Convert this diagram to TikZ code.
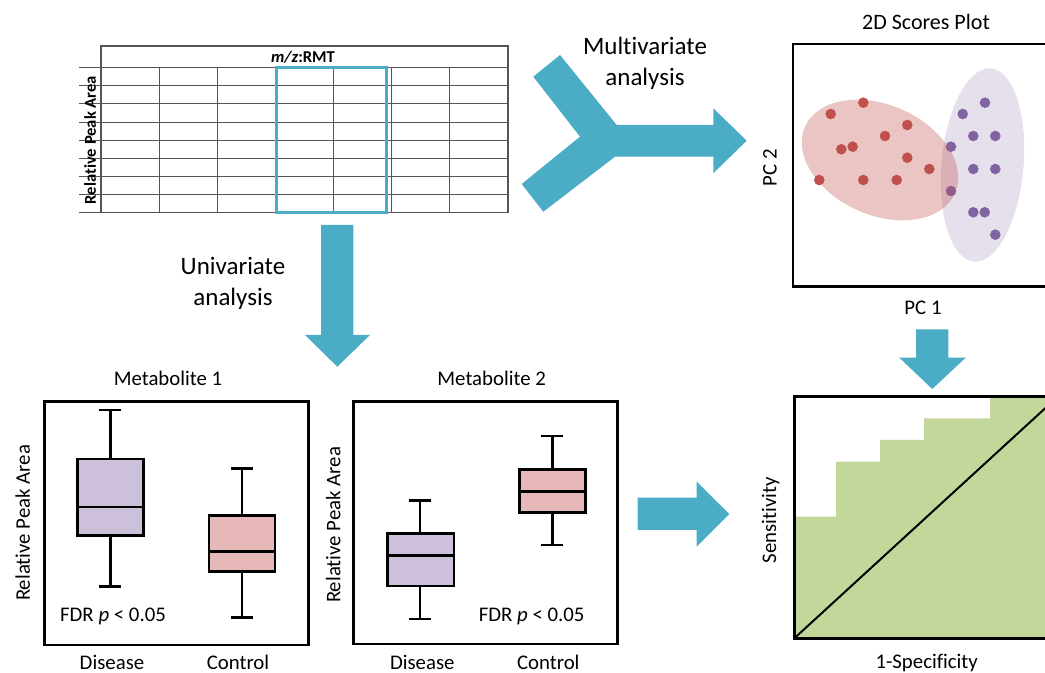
\documentclass[tikz,border=0pt]{standalone}
\usepackage{fontspec}
\setmainfont[Ligatures=NoCommon]{Carlito}

\definecolor{arrowblue}{HTML}{4BACC6}
\definecolor{dotred}{HTML}{C0504D}
\definecolor{dotpurple}{HTML}{8064A2}
\definecolor{boxpurple}{HTML}{CCC0DA}
\definecolor{boxred}{HTML}{E6B9B8}
\definecolor{rocgreen}{HTML}{C4D79B}
\definecolor{gridgray}{HTML}{555555}

\begin{document}
\begin{tikzpicture}[x=0.5pt, y=-0.5pt,
  gridline/.style={gridgray, line width=0.55pt},
  plotframe/.style={line width=1.3pt},
  boxstroke/.style={line width=1.35pt},
  bigarrow/.style={fill=arrowblue},
  txt/.style={font=\fontsize{10.4}{12.5}\selectfont},
  arrowtxt/.style={font=\fontsize{12.5}{15.5}\selectfont, align=center},
  tabletxt/.style={font=\bfseries\fontsize{8.3}{10}\selectfont}]

  \useasboundingbox (0,0) rectangle (1045,673);
  \clip (0,0) rectangle (1045,673);

  % Data table
  \foreach \j in {0,...,8}
    \draw[gridline] (79,67.7+\j*18.125) -- (508,67.7+\j*18.125);
  \foreach \k in {0,...,7}
    \draw[gridline] (101+\k*58.14,67.7) -- (101+\k*58.14,212.7);
  \draw[gridline] (101,67.7) -- (101,46) -- (508,46) -- (508,67.7);
  \draw[arrowblue, line width=1.5pt] (276,67.7) rectangle (386.5,212.7);
  \node[tabletxt] (mz) at (303,57) {\textit{m/z}:RMT};
  \node[tabletxt, rotate=90] (rpa) at (90,140) {Relative Peak Area};

  % Multivariate arrow (Y shape)
  \fill[bigarrow] (560,55) -- (616.7,125) -- (713.3,125) -- (713.3,108.3)
    -- (746.7,140.7) -- (713.3,173.3) -- (713.3,156.7) -- (615,156.7)
    -- (543.3,211.7) -- (521.7,184) -- (580,136.7) -- (533.3,76.7) -- cycle;
  \node[arrowtxt] (multi) at (645,63) {Multivariate\\analysis};

  % Univariate arrow
  \fill[bigarrow] (321,225) -- (353.3,225) -- (353.3,335) -- (370,335)
    -- (337.3,366.7) -- (305,335) -- (321,335) -- cycle;
  \node[arrowtxt] (uni) at (233,283) {Univariate\\analysis};

  % Arrow to ROC curve
  \fill[bigarrow] (637.7,497.7) -- (696.7,497.7) -- (696.7,481.7) -- (729.3,514)
    -- (696.7,546.7) -- (696.7,530) -- (637.7,530) -- cycle;
  \fill[bigarrow] (916,329.3) -- (948.3,329.3) -- (948.3,357.7) -- (965.7,357.7)
    -- (932.3,389) -- (899.3,357.7) -- (916,357.7) -- cycle;

  % 2D scores plot
  \begin{scope}[shift={(982.5,165)}, rotate=-5]
    \fill[dotpurple, fill opacity=0.2] (0,0) ellipse [x radius=41, y radius=97];
  \end{scope}
  \foreach \x/\y in {985/102.7, 962.7/114, 973.3/136, 995.3/136, 951/146.7,
      973.3/169, 995.3/169, 951/191, 973.3/212.3, 984.7/212.3, 995.3/234.7}
    \fill[dotpurple] (\x,\y) circle (2.65pt);
  \begin{scope}[shift={(880,160)}, rotate=-24]
    \fill[dotred, fill opacity=0.33] (0,0) ellipse [x radius=82, y radius=55];
  \end{scope}
  \foreach \x/\y in {830.7/114, 863.3/102.7, 841.3/149.3, 852.7/146.7, 885/136,
      907.3/125, 907.3/157.7, 929.3/169, 819.3/180, 863.3/180, 896.7/180}
    \fill[dotred] (\x,\y) circle (2.65pt);
  \draw[plotframe] (793,44) rectangle (1058,286.5);
  \node[font=\fontsize{11}{13}\selectfont] (scores) at (926,22) {2D Scores Plot};
  \node[txt, rotate=90] (pc2) at (770,168) {PC 2};
  \node[txt] (pc1) at (923,308) {PC 1};

  % Metabolite 1
  \draw[boxstroke] (110.3,410) -- (110.3,586.7);
  \draw[boxstroke] (99.3,410) -- (121.3,410);
  \draw[boxstroke] (99.3,586.7) -- (121.3,586.7);
  \draw[boxstroke, fill=boxpurple] (77.3,459) rectangle (143.3,535.7);
  \draw[boxstroke] (77.3,507) -- (143.3,507);
  \draw[boxstroke] (242,468.7) -- (242,617.3);
  \draw[boxstroke] (231,468.7) -- (253,468.7);
  \draw[boxstroke] (231,617.3) -- (253,617.3);
  \draw[boxstroke, fill=boxred] (209,515.3) rectangle (275,571.7);
  \draw[boxstroke] (209,551.7) -- (275,551.7);
  \draw[plotframe] (44.3,401.7) rectangle (308.3,645);
  \node[txt] (met1) at (168,378) {Metabolite 1};
  \node[txt, rotate=90] (rpa1) at (22.7,523) {Relative Peak Area};
  \node[txt] (fdr1) at (113,616.7) {FDR \textit{p} < 0.05};
  \node[txt] (dis1) at (112,662) {Disease};
  \node[txt] (con1) at (238,662) {Control};

  % Metabolite 2
  \draw[boxstroke] (420,500.7) -- (420,619);
  \draw[boxstroke] (409,500.7) -- (431,500.7);
  \draw[boxstroke] (409,619) -- (431,619);
  \draw[boxstroke, fill=boxpurple] (387.3,533.7) rectangle (454,586);
  \draw[boxstroke] (387.3,555.7) -- (454,555.7);
  \draw[boxstroke] (552.3,436) -- (552.3,545);
  \draw[boxstroke] (541.3,436) -- (563.3,436);
  \draw[boxstroke] (541.3,545) -- (563.3,545);
  \draw[boxstroke, fill=boxred] (519.3,469.3) rectangle (585.3,512.3);
  \draw[boxstroke] (519.3,491.3) -- (585.3,491.3);
  \draw[plotframe] (353.3,401.7) rectangle (617.3,644);
  \node[txt] (met2) at (491.7,378) {Metabolite 2};
  \node[txt, rotate=90] (rpa2) at (333.3,525) {Relative Peak Area};
  \node[txt] (fdr2) at (531.7,616.7) {FDR \textit{p} < 0.05};
  \node[txt] (dis2) at (422.3,662) {Disease};
  \node[txt] (con2) at (548.3,662) {Control};

  % ROC curve
  \fill[rocgreen] (794.3,638.3) -- (794.3,516.7) -- (836,516.7) -- (836,461.7)
    -- (880,461.7) -- (880,440) -- (924,440) -- (924,418.3) -- (990,418.3)
    -- (990,396.5) -- (1058,396.5) -- (1058,638.3) -- cycle;
  \draw[line width=1pt] (794.3,638.3) -- (1058,396.5);
  \draw[plotframe] (794.3,396.5) rectangle (1058,638.3);
  \node[txt, rotate=90] (sens) at (770.7,520) {Sensitivity};
  \node[txt] (spec) at (926.7,663) {1-Specificity};
\end{tikzpicture}
\end{document}
